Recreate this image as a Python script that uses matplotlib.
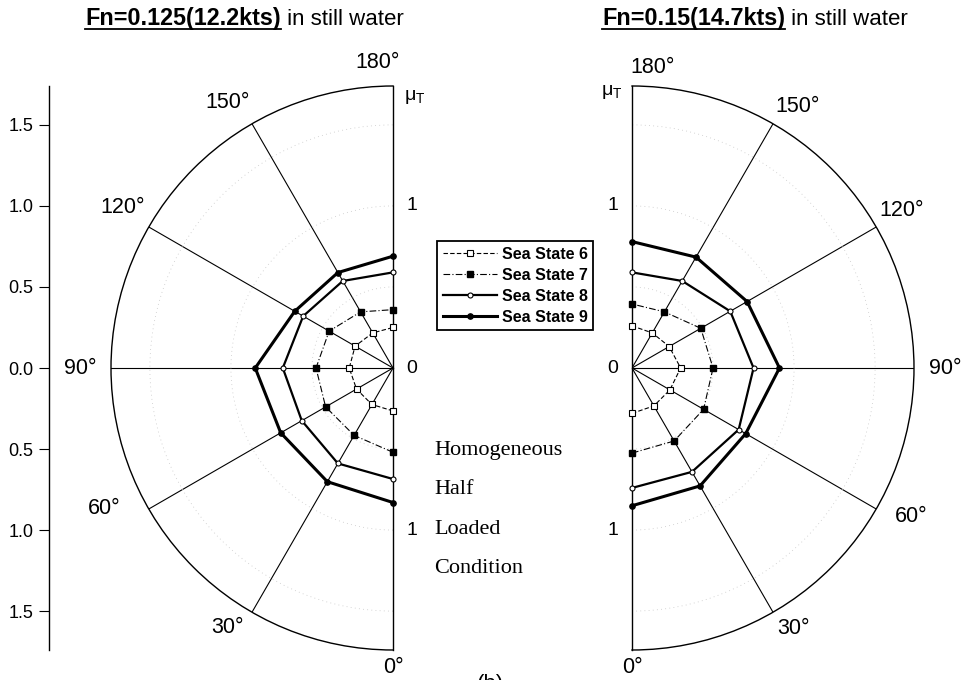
import numpy as np
import matplotlib
matplotlib.use("Agg")
import matplotlib.pyplot as plt
from matplotlib.lines import Line2D

plt.rcParams["font.family"] = ["Liberation Sans", "DejaVu Sans"]

# heading angles (deg) and sea states
HEADINGS = [0, 30, 60, 90, 120, 150, 180]
SERIES = ["Sea State 6", "Sea State 7", "Sea State 8", "Sea State 9"]

# mu_T, Fn = 0.125 (12.2 kts)
slow_ss6 = [0.265, 0.26, 0.26, 0.27, 0.27, 0.25, 0.25]
slow_ss7 = [0.52, 0.48, 0.48, 0.475, 0.455, 0.40, 0.36]
slow_ss8 = [0.685, 0.68, 0.65, 0.68, 0.64, 0.62, 0.59]
slow_ss9 = [0.83, 0.81, 0.80, 0.85, 0.70, 0.68, 0.69]

# mu_T, Fn = 0.15 (14.7 kts)
fast_ss6 = [0.28, 0.27, 0.27, 0.30, 0.265, 0.25, 0.26]
fast_ss7 = [0.525, 0.52, 0.51, 0.50, 0.49, 0.40, 0.395]
fast_ss8 = [0.74, 0.74, 0.76, 0.75, 0.70, 0.62, 0.59]
fast_ss9 = [0.85, 0.84, 0.81, 0.91, 0.82, 0.79, 0.78]

LEFT_AXIS_TICKS = [-1.5, -1.0, -0.5, 0.0, 0.5, 1.0, 1.5]

W, H = 963, 680
R_MAX = 1.74
TOP, BOTTOM = 86, 650
RAD_PX = (BOTTOM - TOP) / 2


def fx(px):
    return px / W


def fy(py):
    return 1 - py / H


styles = [
    dict(ls=(0, (4, 2)), lw=0.8, marker="s", ms=3.8, mfc="white", mec="k", mew=0.8),
    dict(ls=(0, (6, 2, 1, 2)), lw=0.8, marker="s", ms=4.2, mfc="k", mec="k"),
    dict(ls="-", lw=1.6, marker="o", ms=3.6, mfc="white", mec="k", mew=0.8),
    dict(ls="-", lw=2.2, marker="o", ms=3.8, mfc="k", mec="k"),
]

fig = plt.figure(figsize=(W / 100, H / 100), dpi=100)


def draw_panel(center_px, direction, data, deg_labels, r_dx, mu_off):
    # a half-disk wedge sits centred in a square box, so the box is 2R wide
    mid = center_px + direction * RAD_PX / 2
    ax = fig.add_axes([fx(mid - RAD_PX), fy(BOTTOM), fx(2 * RAD_PX),
                       (BOTTOM - TOP) / H], projection="polar")
    ax.set_theta_zero_location("S")
    ax.set_theta_direction(direction)
    ax.set_thetamin(0)
    ax.set_thetamax(180)
    ax.set_rlim(0, R_MAX)
    ax.set_thetagrids([30, 60, 90, 120, 150], labels=[""] * 5)
    ax.set_rgrids([0.5, 1.0, 1.5], labels=[""] * 3)
    ax.xaxis.grid(True, color="k", lw=0.8, ls="-")
    ax.yaxis.grid(True, color="0.78", lw=0.6, ls=(0, (1, 4)))
    ax.tick_params(length=0)
    for s in ax.spines.values():
        s.set_linewidth(1.0)

    th = np.radians(HEADINGS)
    for vals, st, name in zip(data, styles, SERIES):
        ax.plot(th, vals, color="k", label=name, clip_on=False, zorder=3, **st)

    for txt, (deg, r) in zip([f"{a}°" for a in HEADINGS], deg_labels):
        ax.text(np.radians(deg), r, txt, fontsize=15.5, ha="center", va="center")

    # radial value labels along the vertical edge
    for deg, r, txt in [(0, 1.0, "1"), (180, 1.0, "1"), (0, 0.0, "0")]:
        ax.annotate(txt, (np.radians(deg), r), xytext=(r_dx, 0),
                    textcoords="offset pixels", fontsize=14,
                    ha="center", va="center")
    ax.annotate("μ$_{\\mathregular{T}}$", (np.pi, R_MAX), xytext=mu_off,
                textcoords="offset pixels", fontsize=14,
                ha="center", va="center")
    return ax


left = draw_panel(393, -1, [slow_ss6, slow_ss7, slow_ss8, slow_ss9],
                  [(0, 1.85), (32.5, 1.90), (64, 1.98), (90, 1.93),
                   (120.6, 1.94), (148, 1.93), (177.2, 1.89)],
                  19, (22, -11))
right = draw_panel(632, 1, [fast_ss6, fast_ss7, fast_ss8, fast_ss9],
                   [(0, 1.85), (31.8, 1.89), (62, 1.95), (90, 1.93),
                    (120.3, 1.93), (147.7, 1.91), (176, 1.86)],
                   -19, (-20, -6))

# linear mu_T scale on the far left
ax0 = fig.add_axes([fx(49), fy(BOTTOM), 0.0005, (BOTTOM - TOP) / H])
ax0.set_ylim(-R_MAX, R_MAX)
ax0.set_xticks([])
ax0.set_yticks(LEFT_AXIS_TICKS)
ax0.set_yticklabels([f"{abs(v):.1f}" for v in LEFT_AXIS_TICKS], fontsize=13)
ax0.tick_params(axis="y", direction="out", length=7, width=0.8, pad=4)
for side in ["top", "right", "bottom"]:
    ax0.spines[side].set_visible(False)
ax0.spines["left"].set_linewidth(1.0)
ax0.patch.set_visible(False)

leg = fig.legend(*left.get_legend_handles_labels(), loc="upper left",
                 bbox_to_anchor=(fx(437), fy(241)), frameon=True,
                 fancybox=False, edgecolor="k", framealpha=1,
                 borderpad=0.35, handlelength=3.4, handletextpad=0.3,
                 labelspacing=0.38, borderaxespad=0,
                 prop=dict(weight="bold", size=11.5))
leg.get_frame().set_linewidth(1.3)

for i, word in enumerate(["Homogeneous", "Half", "Loaded", "Condition"]):
    fig.text(fx(434), fy(450 + 39.5 * i), word, family="Liberation Serif",
             fontsize=16, ha="left", va="center")

renderer = fig.canvas.get_renderer()


def title(x_px, bold, rest):
    base = fy(25)
    t1 = fig.text(fx(x_px), base, bold, fontsize=16.8, weight="bold",
                  ha="left", va="baseline")
    bb = t1.get_window_extent(renderer)
    fig.text(bb.x1 / W, base, rest, fontsize=16, ha="left", va="baseline")
    fig.add_artist(Line2D([bb.x0 / W, bb.x1 / W], [fy(29), fy(29)],
                          color="k", lw=1.3))


title(85, "Fn=0.125(12.2kts)", " in still water")
title(602, "Fn=0.15(14.7kts)", " in still water")

fig.text(fx(490), fy(674), "(b)", fontsize=16, ha="center", va="top")

fig.savefig("out.png", dpi=100)
